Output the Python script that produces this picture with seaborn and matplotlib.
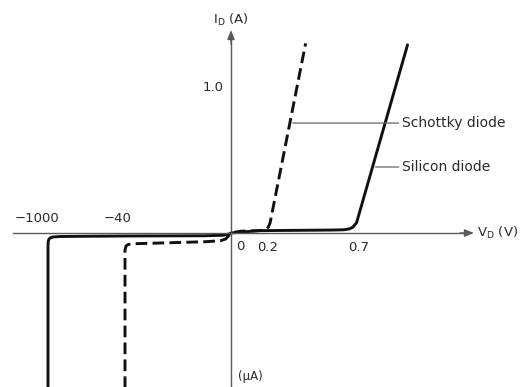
import numpy as np
import pandas as pd
import matplotlib
matplotlib.use("Agg")
import matplotlib.pyplot as plt
import seaborn as sns

# Forward characteristics (V in volts, I in amperes)
si_fwd_v = [0.0, 0.15, 0.35, 0.55, 0.62, 0.65, 0.67, 0.69, 0.97]
si_fwd_i = [0.0, 0.016, 0.018, 0.020, 0.022, 0.028, 0.040, 0.070, 1.28]
sk_fwd_v = [0.0, 0.05, 0.10, 0.16, 0.19, 0.205, 0.215, 0.41]
sk_fwd_i = [0.0, 0.012, 0.014, 0.016, 0.022, 0.040, 0.070, 1.29]

# Reverse characteristics (V in volts, I in microamperes)
si_rev_v = [-1000, -1000, -997, -990, -975, -940, -850, -500, -40, -10, -3, -1, 0]
si_rev_ua = [-45, -2.6, -1.7, -1.3, -1.0, -0.8, -0.7, -0.65, -0.6, -0.55, -0.45, -0.25, 0]
sk_rev_v = [-40, -40, -39.6, -38.8, -37, -30, -20, -10, -4, -2, -1, 0]
sk_rev_ua = [-45, -3.4, -2.6, -2.3, -2.15, -2.05, -1.9, -1.75, -1.55, -1.2, -0.6, 0]

x_tick_vals = [0.2, 0.7]
x_tick_labels = ["0.2", "0.7"]
neg_marks = [-1000, -40]
neg_labels = ["\u22121000", "\u221240"]
y_tick_vals = [1.0]
y_tick_labels = ["1.0"]

W, H = 522, 387

# Piecewise scale for the voltage axis (pixels from the left edge)
X0, X40, X1000 = 231.0, 125.0, 48.0
KPOS = 182.0
KMID = (X0 - X40) / 40.0
KNEG = (X40 - X1000) / 960.0


def fx(v):
    v = np.asarray(v, dtype=float)
    return np.where(v >= 0, X0 + KPOS * v,
                    np.where(v >= -40, X0 + KMID * v, X40 + KNEG * (v + 40)))


def fx_inv(p):
    p = np.asarray(p, dtype=float)
    return np.where(p >= X0, (p - X0) / KPOS,
                    np.where(p >= X40, (p - X0) / KMID, (p - X40) / KNEG - 40))


# Split scale for the current axis: amperes above zero, microamperes below
Y0 = float(H - 233)
KA = 147.0
KUA = 5.0e6


def fy(i):
    i = np.asarray(i, dtype=float)
    return np.where(i >= 0, Y0 + KA * i, Y0 + KUA * i)


def fy_inv(p):
    p = np.asarray(p, dtype=float)
    return np.where(p >= Y0, (p - Y0) / KA, (p - Y0) / KUA)


def curve(name, rv, rua, fv, fi):
    v = list(rv) + list(fv[1:])
    i = [u * 1e-6 for u in rua] + list(fi[1:])
    return pd.DataFrame({"V": v, "I": i, "diode": name, "order": range(len(v))})


df = pd.concat([
    curve("Silicon diode", si_rev_v, si_rev_ua, si_fwd_v, si_fwd_i),
    curve("Schottky diode", sk_rev_v, sk_rev_ua, sk_fwd_v, sk_fwd_i),
], ignore_index=True)

sns.set_theme(style="white")
plt.rcParams["font.family"] = ["DejaVu Sans"]
ink = "#111111"
txt = "#2a2a2a"
axc = "#5a5a5a"

fig = plt.figure(figsize=(W / 100, H / 100), dpi=100)
ax = fig.add_axes([0, 0, 1, 1])
ax.set_xscale("function", functions=(fx, fx_inv))
ax.set_yscale("function", functions=(fy, fy_inv))

sns.lineplot(data=df, x="V", y="I", style="diode", sort=False, estimator=None,
             dashes={"Silicon diode": "", "Schottky diode": (4.0, 1.8)},
             color=ink, linewidth=2.1, legend=False, ax=ax)

ax.set_xlim(float(fx_inv(0)), float(fx_inv(W)))
ax.set_ylim(float(fy_inv(0)), float(fy_inv(H)))
ax.set_xlabel("")
ax.set_ylabel("")

# Axes through the origin
for s in ("top", "right"):
    ax.spines[s].set_visible(False)
ax.spines["bottom"].set_position(("data", 0))
ax.spines["left"].set_position(("data", 0))
ax.spines["bottom"].set_bounds(float(fx_inv(13)), float(fx_inv(468)))
ax.spines["left"].set_bounds(float(fy_inv(0)), float(fy_inv(H - 36)))
for s in ("bottom", "left"):
    ax.spines[s].set_color(axc)
    ax.spines[s].set_linewidth(1.0)

arrow = dict(arrowstyle="-|>,head_length=0.55,head_width=0.22", color=axc,
             lw=1.0, mutation_scale=10, shrinkA=0, shrinkB=0)
ax.annotate("", xy=(float(fx_inv(474)), 0), xytext=(float(fx_inv(460)), 0),
            arrowprops=arrow)
ax.annotate("", xy=(0, float(fy_inv(H - 30))), xytext=(0, float(fy_inv(H - 44))),
            arrowprops=arrow)

ax.set_xticks(x_tick_vals, x_tick_labels)
ax.set_yticks(y_tick_vals, y_tick_labels)
ax.tick_params(axis="x", direction="out", length=3.5, width=1.0, color=axc,
               pad=2, labelsize=9.5, labelcolor=txt)
ax.tick_params(axis="y", direction="in", length=7.5, width=1.0, color=axc,
               pad=5, labelsize=9.5, labelcolor=txt)
ax.minorticks_off()

# Reverse-voltage labels above the axis
for v, lab, dx in zip(neg_marks, neg_labels, [-8, -5]):
    ax.annotate(lab, xy=(v, 0), xytext=(dx, 6), textcoords="offset points",
                ha="center", va="bottom", fontsize=9.5, color=txt)

ax.annotate("0", xy=(0, 0), xytext=(7, -5), textcoords="offset points",
            ha="center", va="top", fontsize=9.5, color=txt)

# Axis titles
ax.text(0, 1 - 20 / H, "I$_\\mathregular{D}$ (A)", transform=ax.get_xaxis_transform(),
        ha="center", va="center", fontsize=9.5, color=txt)
ax.text(float(fx_inv(477)), 0, "V$_\\mathregular{D}$ (V)", ha="left", va="center",
        fontsize=9.5, color=txt)
ax.annotate("(\u03bcA)", xy=(0, 0), xycoords=ax.get_xaxis_transform(),
            xytext=(5, 3), textcoords="offset points", ha="left", va="bottom",
            fontsize=8.5, color=txt)

# Curve call-outs with leader lines
leader = dict(arrowstyle="-", color="#666666", lw=0.9, shrinkA=0, shrinkB=2)
text_v = float(fx_inv(402))
for name, fv, fi, level in [("Schottky diode", sk_fwd_v, sk_fwd_i, 0.748),
                            ("Silicon diode", si_fwd_v, si_fwd_i, 0.449)]:
    v_on_curve = float(np.interp(level, fi, fv))
    ax.annotate(name, xy=(v_on_curve, level), xytext=(text_v, level),
                ha="left", va="center", fontsize=10, color=txt,
                arrowprops=leader)

fig.savefig("out.png", dpi=100)
